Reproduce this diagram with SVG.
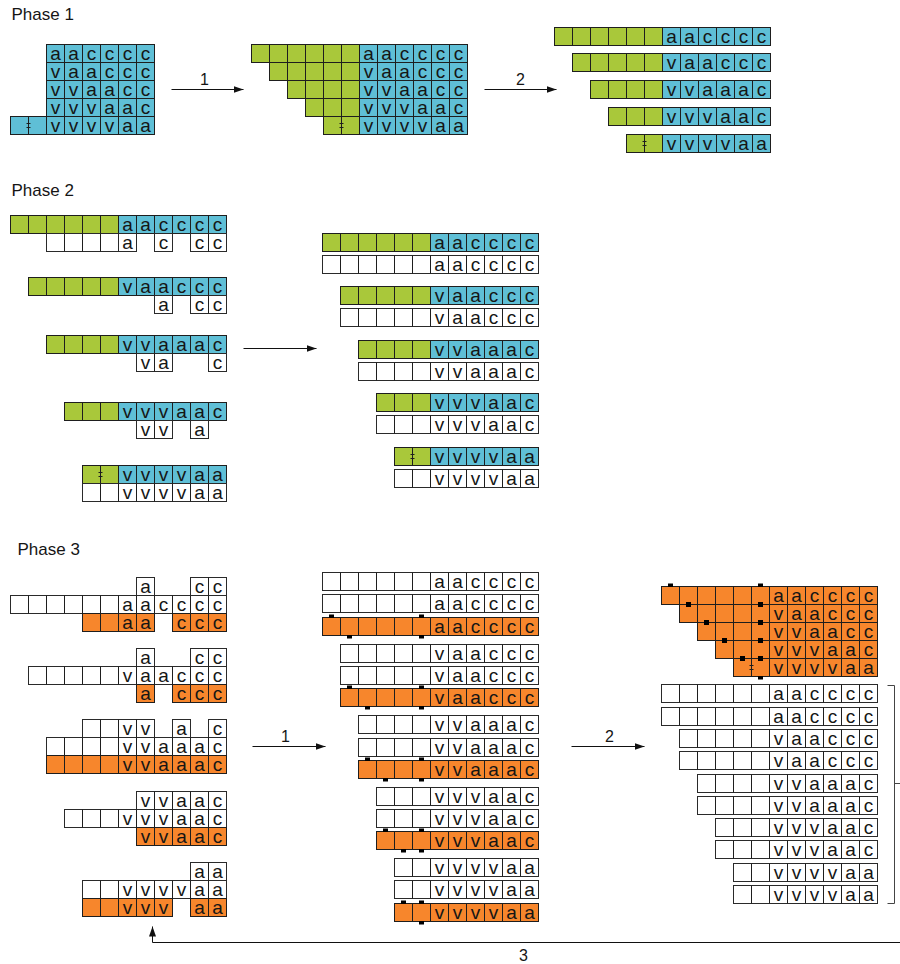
<svg xmlns="http://www.w3.org/2000/svg" xmlns:xlink="http://www.w3.org/1999/xlink" width="900" height="964" viewBox="0 0 900 964">
<style>
.b{fill:#5fbfd6;stroke:#1e1e1e;stroke-width:1}
.g{fill:#a9c83a;stroke:#1e1e1e;stroke-width:1}
.o{fill:#f7862c;stroke:#1e1e1e;stroke-width:1}
.w{fill:#fff;stroke:#2a2a2a;stroke-width:1}
.ln{fill:none;stroke:#1e1e1e;stroke-width:1}
.t{font-family:"Liberation Sans",Arial,sans-serif;font-size:19px;text-anchor:middle;fill:#151515}
.h{font-family:"Liberation Sans",Arial,sans-serif;font-size:17px;fill:#151515}
.n{font-family:"Liberation Sans",Arial,sans-serif;font-size:16px;text-anchor:middle;fill:#151515}
.cn{fill:none;stroke:#111;stroke-width:1}
.br{fill:none;stroke:#444;stroke-width:1}
.mk{fill:#000}
</style>
<defs>
<marker id="ah" markerUnits="userSpaceOnUse" markerWidth="11" markerHeight="8" refX="10" refY="4" orient="auto"><path d="M0 0.5L10 4L0 7.5Z" fill="#111"/></marker>
<path id="v6" class="ln" d="M-90 0v18M-72 0v18M-54 0v18M-36 0v18M-18 0v18M0 0v18M18 0v18M36 0v18M54 0v18M72 0v18M90 0v18"/>
<path id="v5" class="ln" d="M-72 0v18M-54 0v18M-36 0v18M-18 0v18M0 0v18M18 0v18M36 0v18M54 0v18M72 0v18M90 0v18"/>
<path id="v4" class="ln" d="M-54 0v18M-36 0v18M-18 0v18M0 0v18M18 0v18M36 0v18M54 0v18M72 0v18M90 0v18"/>
<path id="v3" class="ln" d="M-36 0v18M-18 0v18M0 0v18M18 0v18M36 0v18M54 0v18M72 0v18M90 0v18"/>
<path id="v2" class="ln" d="M-18 0v18M0 0v18M18 0v18M36 0v18M54 0v18M72 0v18M90 0v18"/>
<path id="dg" class="ln" d="M-2 7h4M-2 11h4"/>
<rect id="mt" class="mk" x="-2.5" y="-3" width="5" height="3.5"/>
<rect id="mb" class="mk" x="-2.5" y="-0.5" width="5" height="3.5"/>
<rect id="ms" class="mk" x="-2.5" y="-2.5" width="5" height="5"/>
<g id="GB0"><rect class="g" x="-108" width="108" height="18"/><rect class="b" width="108" height="18"/><use href="#v6"/></g>
<g id="GB1"><rect class="g" x="-90" width="90" height="18"/><rect class="b" width="108" height="18"/><use href="#v5"/></g>
<g id="GB2"><rect class="g" x="-72" width="72" height="18"/><rect class="b" width="108" height="18"/><use href="#v4"/></g>
<g id="GB3"><rect class="g" x="-54" width="54" height="18"/><rect class="b" width="108" height="18"/><use href="#v3"/></g>
<g id="GB4"><rect class="g" x="-36" width="36" height="18"/><rect class="b" width="108" height="18"/><use href="#v2"/><use href="#dg" x="-18"/></g>
<g id="W0"><rect class="w" x="-108" width="216" height="18"/><use href="#v6"/></g>
<g id="W1"><rect class="w" x="-90" width="198" height="18"/><use href="#v5"/></g>
<g id="W2"><rect class="w" x="-72" width="180" height="18"/><use href="#v4"/></g>
<g id="W3"><rect class="w" x="-54" width="162" height="18"/><use href="#v3"/></g>
<g id="W4"><rect class="w" x="-36" width="144" height="18"/><use href="#v2"/></g>
<g id="O0"><rect class="o" x="-108" width="216" height="18"/><use href="#v6"/></g>
<g id="O1"><rect class="o" x="-90" width="198" height="18"/><use href="#v5"/></g>
<g id="O2"><rect class="o" x="-72" width="180" height="18"/><use href="#v4"/></g>
<g id="O3"><rect class="o" x="-54" width="162" height="18"/><use href="#v3"/></g>
<g id="O4"><rect class="o" x="-36" width="144" height="18"/><use href="#v2"/></g>
</defs>
<g transform="translate(0.5,0.5)">
<text class="h" x="11" y="19">Phase 1</text>
<text class="h" x="11" y="195">Phase 2</text>
<text class="h" x="17" y="554">Phase 3</text>

<g id="p1-grid-a">
<rect class="b" x="46" y="44" width="108" height="90"/>
<path class="ln" d="M64 44V134M82 44V134M100 44V134M118 44V134M136 44V134M46 62H154M46 80H154M46 98H154M46 116H154"/>
<rect class="b" x="10" y="116" width="36" height="18"/>
<path class="ln" d="M28 116v18"/>
<use href="#dg" x="28" y="116"/>
<text class="t" x="55 73 91 109 127 145" y="59">aacccc</text>
<text class="t" x="55 73 91 109 127 145" y="77">vaaccc</text>
<text class="t" x="55 73 91 109 127 145" y="95">vvaacc</text>
<text class="t" x="55 73 91 109 127 145" y="113">vvvaac</text>
<text class="t" x="55 73 91 109 127 145" y="131">vvvvaa</text>
</g>

<g id="p1-grid-b">
<use href="#GB0" x="359" y="44"/><use href="#GB1" x="359" y="62"/><use href="#GB2" x="359" y="80"/><use href="#GB3" x="359" y="98"/><use href="#GB4" x="359" y="116"/>
<text class="t" x="368 386 404 422 440 458" y="59">aacccc</text>
<text class="t" x="368 386 404 422 440 458" y="77">vaaccc</text>
<text class="t" x="368 386 404 422 440 458" y="95">vvaacc</text>
<text class="t" x="368 386 404 422 440 458" y="113">vvvaac</text>
<text class="t" x="368 386 404 422 440 458" y="131">vvvvaa</text>
</g>

<g id="p1-rows-c">
<use href="#GB0" x="662" y="27"/><use href="#GB1" x="662" y="53"/><use href="#GB2" x="662" y="80"/><use href="#GB3" x="662" y="107"/><use href="#GB4" x="662" y="134"/>
<text class="t" x="671 689 707 725 743 761" y="42">aacccc</text>
<text class="t" x="671 689 707 725 743 761" y="68">vaaccc</text>
<text class="t" x="671 689 707 725 743 761" y="95">vvaaac</text>
<text class="t" x="671 689 707 725 743 761" y="122">vvvaac</text>
<text class="t" x="671 689 707 725 743 761" y="149">vvvvaa</text>
</g>

<g id="p2-left">
<use href="#GB0" x="118" y="215"/><use href="#GB1" x="118" y="277"/><use href="#GB2" x="118" y="335"/><use href="#GB3" x="118" y="402"/><use href="#GB4" x="118" y="465"/>
<text class="t" x="127 145 163 181 199 217" y="230">aacccc</text>
<text class="t" x="127 145 163 181 199 217" y="292">vaaccc</text>
<text class="t" x="127 145 163 181 199 217" y="350">vvaaac</text>
<text class="t" x="127 145 163 181 199 217" y="417">vvvaac</text>
<text class="t" x="127 145 163 181 199 217" y="480">vvvvaa</text>
<rect class="w" x="46" y="233" width="72" height="18"/><path class="ln" d="M64 233v18M82 233v18M100 233v18"/>
<rect class="w" x="118" y="233" width="18" height="18"/><rect class="w" x="154" y="233" width="18" height="18"/>
<rect class="w" x="190" y="233" width="36" height="18"/><path class="ln" d="M208 233v18"/>
<text class="t" x="127 163 199 217" y="248">accc</text>
<rect class="w" x="154" y="295" width="18" height="18"/>
<rect class="w" x="190" y="295" width="36" height="18"/><path class="ln" d="M208 295v18"/>
<text class="t" x="163 199 217" y="310">acc</text>
<rect class="w" x="136" y="353" width="36" height="18"/><path class="ln" d="M154 353v18"/>
<rect class="w" x="208" y="353" width="18" height="18"/>
<text class="t" x="145 163 217" y="368">vac</text>
<rect class="w" x="136" y="420" width="36" height="18"/><path class="ln" d="M154 420v18"/>
<rect class="w" x="190" y="420" width="18" height="18"/>
<text class="t" x="145 163 199" y="435">vva</text>
<use href="#W4" x="118" y="483"/>
<text class="t" x="127 145 163 181 199 217" y="498">vvvvaa</text>
</g>

<g id="p2-right">
<use href="#GB0" x="430" y="233"/><use href="#W0" x="430" y="255"/>
<use href="#GB1" x="430" y="286"/><use href="#W1" x="430" y="308"/>
<use href="#GB2" x="430" y="340"/><use href="#W2" x="430" y="362"/>
<use href="#GB3" x="430" y="393"/><use href="#W3" x="430" y="415"/>
<use href="#GB4" x="430" y="447"/><use href="#W4" x="430" y="469"/>
<text class="t" x="439 457 475 493 511 529" y="248">aacccc</text>
<text class="t" x="439 457 475 493 511 529" y="270">aacccc</text>
<text class="t" x="439 457 475 493 511 529" y="301">vaaccc</text>
<text class="t" x="439 457 475 493 511 529" y="323">vaaccc</text>
<text class="t" x="439 457 475 493 511 529" y="355">vvaaac</text>
<text class="t" x="439 457 475 493 511 529" y="377">vvaaac</text>
<text class="t" x="439 457 475 493 511 529" y="408">vvvaac</text>
<text class="t" x="439 457 475 493 511 529" y="430">vvvaac</text>
<text class="t" x="439 457 475 493 511 529" y="462">vvvvaa</text>
<text class="t" x="439 457 475 493 511 529" y="484">vvvvaa</text>
</g>

<g id="p3-left">
<rect class="w" x="136" y="577" width="18" height="18"/><rect class="w" x="190" y="577" width="36" height="18"/><path class="ln" d="M208 577v18"/>
<text class="t" x="145 199 217" y="592">acc</text>
<use href="#W0" x="118" y="595"/>
<text class="t" x="127 145 163 181 199 217" y="610">aacccc</text>
<rect class="o" x="82" y="613" width="72" height="18"/><path class="ln" d="M100 613v18M118 613v18M136 613v18"/>
<rect class="o" x="172" y="613" width="54" height="18"/><path class="ln" d="M190 613v18M208 613v18"/>
<text class="t" x="127 145 181 199 217" y="628">aaccc</text>

<rect class="w" x="136" y="648" width="18" height="18"/><rect class="w" x="190" y="648" width="36" height="18"/><path class="ln" d="M208 648v18"/>
<text class="t" x="145 199 217" y="663">acc</text>
<use href="#W1" x="118" y="666"/>
<text class="t" x="127 145 163 181 199 217" y="681">vaaccc</text>
<rect class="o" x="136" y="684" width="18" height="18"/>
<rect class="o" x="172" y="684" width="54" height="18"/><path class="ln" d="M190 684v18M208 684v18"/>
<text class="t" x="145 181 199 217" y="699">accc</text>

<rect class="w" x="82" y="719" width="72" height="18"/><path class="ln" d="M100 719v18M118 719v18M136 719v18"/>
<rect class="w" x="172" y="719" width="18" height="18"/><rect class="w" x="208" y="719" width="18" height="18"/>
<text class="t" x="127 145 181 217" y="734">vvac</text>
<use href="#W2" x="118" y="737"/>
<text class="t" x="127 145 163 181 199 217" y="752">vvaaac</text>
<use href="#O2" x="118" y="755"/>
<text class="t" x="127 145 163 181 199 217" y="770">vvaaac</text>

<rect class="w" x="136" y="791" width="90" height="18"/><path class="ln" d="M154 791v18M172 791v18M190 791v18M208 791v18"/>
<text class="t" x="145 163 181 199 217" y="806">vvaac</text>
<use href="#W3" x="118" y="809"/>
<text class="t" x="127 145 163 181 199 217" y="824">vvvaac</text>
<rect class="o" x="136" y="827" width="90" height="18"/><path class="ln" d="M154 827v18M172 827v18M190 827v18M208 827v18"/>
<text class="t" x="145 163 181 199 217" y="842">vvaac</text>

<rect class="w" x="190" y="862" width="36" height="18"/><path class="ln" d="M208 862v18"/>
<text class="t" x="199 217" y="877">aa</text>
<use href="#W4" x="118" y="880"/>
<text class="t" x="127 145 163 181 199 217" y="895">vvvvaa</text>
<rect class="o" x="82" y="898" width="90" height="18"/><path class="ln" d="M100 898v18M118 898v18M136 898v18M154 898v18"/>
<rect class="o" x="190" y="898" width="36" height="18"/><path class="ln" d="M208 898v18"/>
<text class="t" x="127 145 163 199 217" y="913">vvvaa</text>
</g>

<g id="p3-middle">
<use href="#W0" x="430" y="572"/><use href="#W0" x="430" y="594"/><use href="#O0" x="430" y="617"/>
<use href="#W1" x="430" y="644"/><use href="#W1" x="430" y="666"/><use href="#O1" x="430" y="688"/>
<use href="#W2" x="430" y="715"/><use href="#W2" x="430" y="738"/><use href="#O2" x="430" y="760"/>
<use href="#W3" x="430" y="787"/><use href="#W3" x="430" y="809"/><use href="#O3" x="430" y="831"/>
<use href="#W4" x="430" y="858"/><use href="#W4" x="430" y="880"/><use href="#O4" x="430" y="903"/>
<use href="#mt" x="331" y="617"/><use href="#mt" x="421" y="617"/><use href="#mb" x="349" y="635"/><use href="#mb" x="421" y="635"/>
<use href="#mt" x="349" y="688"/><use href="#mt" x="421" y="688"/><use href="#mb" x="367" y="706"/><use href="#mb" x="421" y="706"/>
<use href="#mt" x="367" y="760"/><use href="#mt" x="421" y="760"/><use href="#mb" x="385" y="778"/><use href="#mb" x="421" y="778"/>
<use href="#mt" x="385" y="831"/><use href="#mt" x="421" y="831"/><use href="#mb" x="403" y="849"/><use href="#mb" x="421" y="849"/>
<use href="#mt" x="403" y="903"/><use href="#mt" x="421" y="903"/><use href="#mb" x="421" y="921"/>
<text class="t" x="439 457 475 493 511 529" y="587">aacccc</text>
<text class="t" x="439 457 475 493 511 529" y="609">aacccc</text>
<text class="t" x="439 457 475 493 511 529" y="632">aacccc</text>
<text class="t" x="439 457 475 493 511 529" y="659">vaaccc</text>
<text class="t" x="439 457 475 493 511 529" y="681">vaaccc</text>
<text class="t" x="439 457 475 493 511 529" y="703">vaaccc</text>
<text class="t" x="439 457 475 493 511 529" y="730">vvaaac</text>
<text class="t" x="439 457 475 493 511 529" y="753">vvaaac</text>
<text class="t" x="439 457 475 493 511 529" y="775">vvaaac</text>
<text class="t" x="439 457 475 493 511 529" y="802">vvvaac</text>
<text class="t" x="439 457 475 493 511 529" y="824">vvvaac</text>
<text class="t" x="439 457 475 493 511 529" y="846">vvvaac</text>
<text class="t" x="439 457 475 493 511 529" y="873">vvvvaa</text>
<text class="t" x="439 457 475 493 511 529" y="895">vvvvaa</text>
<text class="t" x="439 457 475 493 511 529" y="918">vvvvaa</text>
</g>

<g id="p3-right-grid">
<use href="#O0" x="769" y="586"/><use href="#O1" x="769" y="604"/><use href="#O2" x="769" y="622"/><use href="#O3" x="769" y="640"/><use href="#O4" x="769" y="658"/>
<use href="#dg" x="751" y="658"/>
<use href="#mt" x="670" y="586"/><use href="#mt" x="760" y="586"/>
<use href="#ms" x="688" y="604"/><use href="#ms" x="760" y="604"/>
<use href="#ms" x="706" y="622"/><use href="#ms" x="760" y="622"/>
<use href="#ms" x="724" y="640"/><use href="#ms" x="760" y="640"/>
<use href="#ms" x="742" y="658"/><use href="#ms" x="760" y="658"/>
<use href="#mb" x="760" y="676"/>
<text class="t" x="778 796 814 832 850 868" y="601">aacccc</text>
<text class="t" x="778 796 814 832 850 868" y="619">vaaccc</text>
<text class="t" x="778 796 814 832 850 868" y="637">vvaacc</text>
<text class="t" x="778 796 814 832 850 868" y="655">vvvaac</text>
<text class="t" x="778 796 814 832 850 868" y="673">vvvvaa</text>
</g>

<g id="p3-right-rows">
<use href="#W0" x="769" y="684"/><use href="#W0" x="769" y="707"/>
<use href="#W1" x="769" y="729"/><use href="#W1" x="769" y="751"/>
<use href="#W2" x="769" y="774"/><use href="#W2" x="769" y="796"/>
<use href="#W3" x="769" y="818"/><use href="#W3" x="769" y="840"/>
<use href="#W4" x="769" y="863"/><use href="#W4" x="769" y="885"/>
<text class="t" x="778 796 814 832 850 868" y="699">aacccc</text>
<text class="t" x="778 796 814 832 850 868" y="722">aacccc</text>
<text class="t" x="778 796 814 832 850 868" y="744">vaaccc</text>
<text class="t" x="778 796 814 832 850 868" y="766">vaaccc</text>
<text class="t" x="778 796 814 832 850 868" y="789">vvaaac</text>
<text class="t" x="778 796 814 832 850 868" y="811">vvaaac</text>
<text class="t" x="778 796 814 832 850 868" y="833">vvvaac</text>
<text class="t" x="778 796 814 832 850 868" y="855">vvvaac</text>
<text class="t" x="778 796 814 832 850 868" y="878">vvvvaa</text>
<text class="t" x="778 796 814 832 850 868" y="900">vvvvaa</text>
</g>

<g id="connectors">
<line class="cn" x1="171" y1="89" x2="243" y2="89" marker-end="url(#ah)"/>
<text class="n" x="204" y="84">1</text>
<line class="cn" x1="484" y1="89" x2="556" y2="89" marker-end="url(#ah)"/>
<text class="n" x="520" y="84">2</text>
<line class="cn" x1="243" y1="348" x2="316" y2="348" marker-end="url(#ah)"/>
<line class="cn" x1="252" y1="746" x2="325" y2="746" marker-end="url(#ah)"/>
<text class="n" x="285" y="741">1</text>
<line class="cn" x1="571" y1="746" x2="644" y2="746" marker-end="url(#ah)"/>
<text class="n" x="609" y="741">2</text>
<path class="br" d="M887 685H894V903H887M894 783H910V942"/>
<path class="cn" d="M910 942H152V926" marker-end="url(#ah)"/>
<text class="n" x="523" y="960">3</text>
</g>
</g>
</svg>
